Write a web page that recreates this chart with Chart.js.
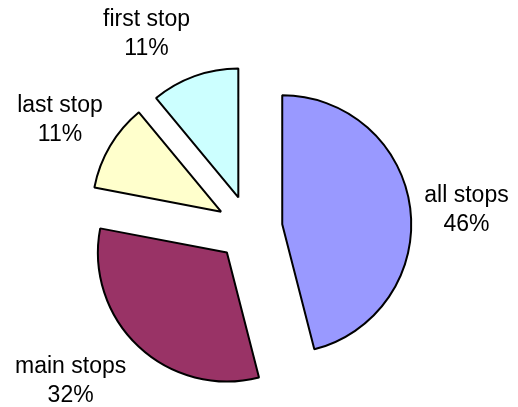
<!DOCTYPE html>
<html>
<head>
<meta charset="utf-8">
<script src="https://cdn.jsdelivr.net/npm/chart.js@4/dist/chart.umd.min.js"></script>
<style>
  html, body { margin: 0; padding: 0; background: #ffffff; }
  #wrap { width: 518px; height: 407px; }
</style>
</head>
<body>
<div id="wrap"><canvas id="c" width="518" height="407"></canvas></div>
<script>
// Share of trips by stop type
const categories = ['all stops', 'main stops', 'last stop', 'first stop'];
const shares = [46, 32, 11, 11];
const valueLabels = ['46%', '32%', '11%', '11%'];

const sliceColors = ['#9999FF', '#993366', '#FFFFCC', '#CCFFFF'];

// Pull every slice out of the pie along its own bisector
const explodePlugin = {
  id: 'explode',
  afterDatasetUpdate(chart, args, opts) {
    const d = opts.distance || 0;
    args.meta.data.forEach(arc => {
      const mid = (arc.startAngle + arc.endAngle) / 2;
      arc.x += Math.cos(mid) * d;
      arc.y += Math.sin(mid) * d;
    });
  }
};

// Two-line category / percentage labels outside each slice
const sliceLabelPlugin = {
  id: 'sliceLabels',
  afterDraw(chart, args, opts) {
    const ctx = chart.ctx;
    const meta = chart.getDatasetMeta(0);
    ctx.save();
    ctx.font = opts.font;
    ctx.fillStyle = opts.color;
    ctx.textAlign = 'center';
    ctx.textBaseline = 'alphabetic';
    meta.data.forEach((arc, i) => {
      const mid = (arc.startAngle + arc.endAngle) / 2;
      const dist = arc.outerRadius + opts.gap;
      const nudge = opts.nudges[i] || [0, 0];
      const x = arc.x + Math.cos(mid) * dist + nudge[0];
      const y = arc.y + Math.sin(mid) * dist + nudge[1];
      const half = opts.lineHeight / 2;
      ctx.fillText(chart.data.labels[i], x, y - half);
      ctx.fillText(valueLabels[i], x, y + half);
    });
    ctx.restore();
  }
};

new Chart(document.getElementById('c'), {
  type: 'pie',
  data: {
    labels: categories,
    datasets: [{
      data: shares,
      backgroundColor: sliceColors,
      borderColor: '#000000',
      borderWidth: 2
    }]
  },
  options: {
    responsive: false,
    animation: false,
    events: [],
    radius: 129,
    layout: { padding: { left: 0, right: 19, top: 50, bottom: 0 } },
    plugins: {
      legend: { display: false },
      tooltip: { enabled: false },
      explode: { distance: 33 },
      sliceLabels: {
        font: '23px "Liberation Sans", Arial, sans-serif',
        color: '#000000',
        gap: 54,
        lineHeight: 29,
        nudges: [[2.7, 14.6], [-31, 2], [-3.6, 8.4], [-29.8, 15.7]]
      }
    }
  },
  plugins: [explodePlugin, sliceLabelPlugin]
});
</script>
</body>
</html>
